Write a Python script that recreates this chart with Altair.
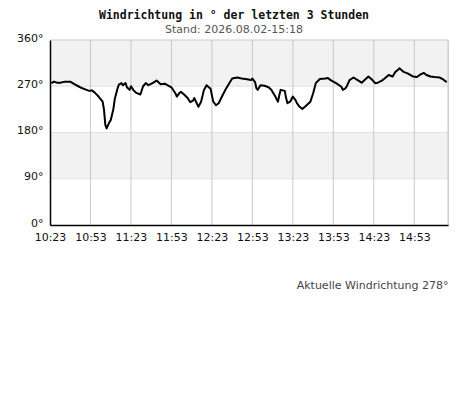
import altair as alt
import pandas as pd

title_text = "Windrichtung in ° der letzten 3 Stunden"
subtitle_text = "Stand: 2026.08.02-15:18"
day = "2026-08-02"
start_clock = "10:23"
end_clock = "15:18"

# minutes after 10:23 and wind direction in degrees
minutes = [1, 3, 5, 8, 11, 15, 18, 21, 24, 27, 29, 31, 33, 36, 39, 40, 41, 42, 44, 45,
           47, 48, 50, 51, 53, 54, 56, 57, 59, 60, 62, 64, 67, 69, 71, 73, 76, 79, 82, 85,
           87, 90, 93, 94, 96, 97, 99, 102, 104, 106, 107, 110, 112, 114, 116, 119, 121, 123, 125, 128,
           130, 132, 135, 139, 142, 145, 149, 150, 152, 153, 154, 156, 159, 162, 164, 167, 169, 170, 171, 174,
           175, 176, 178, 180, 182, 183, 185, 187, 189, 191, 193, 195, 197, 200, 204, 206, 208, 212, 216, 217,
           219, 220, 222, 225, 228, 231, 234, 236, 239, 241, 243, 246, 248, 251, 254, 256, 258, 259, 262, 265,
           267, 269, 272, 274, 277, 279, 282, 285, 289, 291, 294]
direction = [276, 279, 277, 277, 279, 279, 274, 270, 266, 263, 261, 262, 258, 250, 240, 225, 195, 188, 200, 204,
             226, 245, 265, 273, 276, 272, 276, 268, 263, 270, 262, 257, 254, 270, 276, 272, 276, 281, 274, 275,
             272, 268, 256, 250, 257, 259, 255, 247, 239, 242, 247, 230, 240, 262, 272, 265, 240, 233, 237, 253,
             263, 272, 285, 287, 285, 284, 282, 285, 278, 266, 263, 272, 271, 268, 263, 250, 240, 253, 263, 261,
             247, 237, 240, 250, 243, 237, 230, 226, 230, 235, 240, 256, 276, 284, 285, 286, 282, 276, 269, 263,
             266, 270, 282, 287, 282, 277, 284, 289, 282, 276, 277, 281, 285, 292, 289, 298, 302, 305, 298, 295,
             292, 289, 288, 292, 296, 292, 289, 288, 287, 284, 278]

tick_clocks = ["10:23", "10:53", "11:23", "11:53", "12:23", "12:53", "13:23", "13:53", "14:23", "14:53"]
y_ticks = [0, 90, 180, 270, 360]
band_lo = [90, 270]
band_hi = [180, 360]
hgrid = [90, 180, 270]

base = pd.Timestamp(f"{day} {start_clock}")
df = pd.DataFrame({
    "time": base + pd.to_timedelta(minutes, unit="m"),
    "dir": direction,
})
bands = pd.DataFrame({"lo": band_lo, "hi": band_hi})
vgrid = pd.DataFrame({"time": [pd.Timestamp(f"{day} {c}") for c in tick_clocks[1:]] + [pd.Timestamp(f"{day} {end_clock}")]})
hg = pd.DataFrame({"v": hgrid})
top = pd.DataFrame({"v": [360]})


def dt(clock):
    h, m = clock.split(":")
    y, mo, d = day.split("-")
    return alt.DateTime(year=int(y), month=int(mo), date=int(d), hours=int(h), minutes=int(m))


xscale = alt.Scale(domain=[dt(start_clock), dt(end_clock)])
yscale = alt.Scale(domain=[0, 360])
font = "DejaVu Sans"

x_axis = alt.Axis(values=[dt(c) for c in tick_clocks], format="%H:%M", grid=False, ticks=False,
                  domainColor="black", domainWidth=1.5, labelFont=font, labelFontSize=11,
                  labelColor="#111", labelPadding=6, zindex=1, labelOverlap=False, labelFlush=False,
                  title=f"Aktuelle Windrichtung {direction[-1]}°", titleAnchor="end", titleAlign="right",
                  titleFont=font, titleFontSize=11, titleFontWeight="normal", titleColor="#444",
                  titleY=63, titleBaseline="alphabetic")
y_axis = alt.Axis(values=y_ticks, labelExpr="datum.value + '°'", grid=False, ticks=False,
                  domainColor="black", domainWidth=1.5, labelFont=font, labelFontSize=11,
                  labelColor="#111", labelPadding=7, title=None, zindex=1,
                  labelOverlap=False, labelFlush=False, labelOffset=-2)

band_layer = alt.Chart(bands).mark_rect(color="#f2f2f2").encode(
    y=alt.Y("lo:Q", scale=yscale, axis=y_axis), y2="hi:Q")
hgrid_layer = alt.Chart(hg).mark_rule(color="#e2e2e2", strokeWidth=1).encode(y=alt.Y("v:Q", scale=yscale))
top_layer = alt.Chart(top).mark_rule(color="#cccccc", strokeWidth=1).encode(y=alt.Y("v:Q", scale=yscale))
vgrid_layer = alt.Chart(vgrid).mark_rule(color="#c8c8c8", strokeWidth=1).encode(
    x=alt.X("time:T", scale=xscale, axis=x_axis))
line_layer = alt.Chart(df).mark_line(color="black", strokeWidth=2, strokeJoin="round").encode(
    x=alt.X("time:T", scale=xscale, axis=x_axis),
    y=alt.Y("dir:Q", scale=yscale, axis=y_axis))

chart = alt.layer(band_layer, hgrid_layer, top_layer, vgrid_layer, line_layer).properties(
    width=398, height=185,
    autosize=alt.AutoSizeParams(type="none"),
    padding={"left": 42, "top": 32, "right": 12, "bottom": 182},
    title=alt.TitleParams(text=title_text, subtitle=subtitle_text, font="DejaVu Sans Mono",
                          fontWeight="bold", fontSize=11.5, color="#111",
                          subtitleFont=font, subtitleFontSize=11, subtitleColor="#555",
                          subtitlePadding=3, anchor="middle", dx=-15, offset=-3),
).configure_view(stroke=None).configure(background="white")

chart.save("out.html", embed_options={"renderer": "svg", "actions": False})
